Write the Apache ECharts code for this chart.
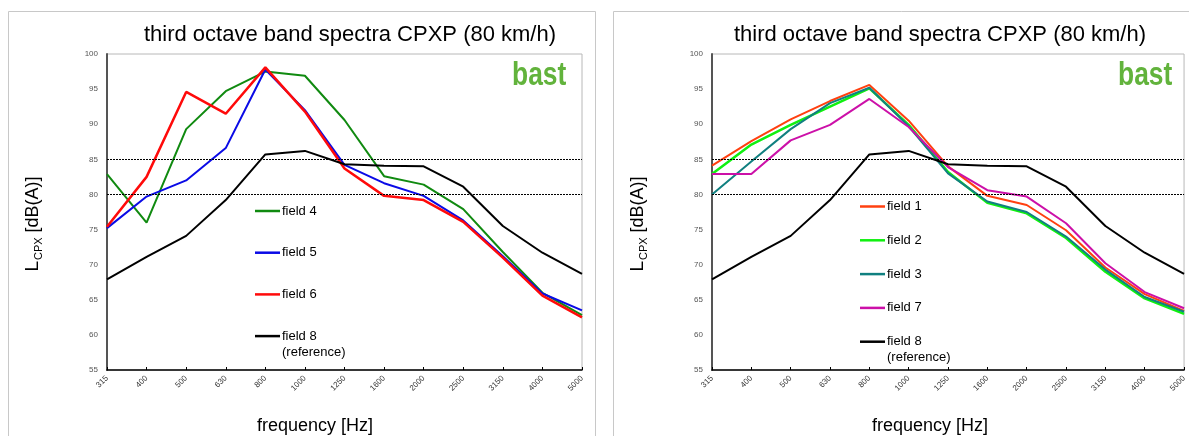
<!DOCTYPE html>
<html><head><meta charset="utf-8">
<script src="https://cdn.jsdelivr.net/npm/echarts@6/dist/echarts.min.js"></script>
<style>html,body{margin:0;padding:0;background:#fff}#c{width:1189px;height:436px}</style>
</head><body><div id="c"></div>
<script>
// ---- data ----
const categories = ['315','400','500','630','800','1000','1250','1600','2000','2500','3150','4000','5000'];
const field4 = [82.9, 76.0, 89.3, 94.7, 97.5, 96.9, 90.6, 82.6, 81.4, 77.9, 71.8, 66.0, 62.8];
const field5 = [75.2, 79.7, 82.0, 86.6, 97.8, 92.0, 84.2, 81.6, 79.8, 76.3, 71.2, 65.9, 63.5];
const field6 = [75.4, 82.5, 94.6, 91.5, 98.1, 91.8, 83.7, 79.8, 79.2, 76.1, 71.0, 65.6, 62.5];
const field8 = [67.9, 71.1, 74.1, 79.2, 85.7, 86.2, 84.3, 84.1, 84.0, 81.1, 75.5, 71.7, 68.7];
const field1 = [84.1, 87.6, 90.7, 93.3, 95.6, 90.5, 84.0, 79.8, 78.5, 74.9, 69.6, 65.8, 63.4];
const field2 = [82.9, 87.1, 89.9, 92.5, 95.1, 89.9, 83.2, 78.8, 77.3, 73.8, 69.0, 65.2, 63.0];
const field3 = [80.0, 84.7, 89.3, 93.0, 95.2, 89.7, 83.0, 79.0, 77.5, 74.0, 69.3, 65.4, 63.3];
const field7 = [82.9, 82.9, 87.7, 89.9, 93.6, 89.6, 83.9, 80.6, 79.7, 75.9, 70.2, 66.1, 63.8];
const refLevels = [80, 85];
const yMin = 55, yMax = 100, yStep = 5;
const titleText = 'third octave band spectra CPXP (80 km/h)';
const xTitle = 'frequency [Hz]';
const leftNames = ['field 4', 'field 5', 'field 6', 'field 8'];
const rightNames = ['field 1', 'field 2', 'field 3', 'field 7', 'field 8'];

const FONT = '"Liberation Sans", Arial, sans-serif';
const chart = echarts.init(document.getElementById('c'), null, {renderer: 'canvas'});

function xAxisFor(gi) {
  return {
    type: 'category', gridIndex: gi, data: categories, boundaryGap: false,
    axisLine: {lineStyle: {color: '#000', width: 1.5}},
    axisTick: {show: true, inside: true, length: 3, lineStyle: {color: '#000'}},
    axisLabel: {rotate: 45, fontSize: 8, color: '#333', margin: 7, interval: 0, fontFamily: FONT},
    splitLine: {show: false}
  };
}
function yAxisFor(gi) {
  return {
    type: 'value', gridIndex: gi, min: yMin, max: yMax, interval: yStep,
    axisLine: {show: true, lineStyle: {color: '#555', width: 2}},
    axisTick: {show: false},
    axisLabel: {fontSize: 8, color: '#555', margin: 9, fontFamily: FONT},
    splitLine: {show: false}
  };
}
function lineSeries(name, data, color, gi, width, extra) {
  return Object.assign({
    name, type: 'line', data, xAxisIndex: gi, yAxisIndex: gi,
    symbol: 'none', animation: false,
    lineStyle: {color, width: width || 2}, itemStyle: {color}
  }, extra || {});
}
function refMark() {
  return {markLine: {
    silent: true, symbol: ['none', 'none'], animation: false,
    label: {show: false},
    lineStyle: {type: [2, 1], color: '#000', width: 1},
    data: refLevels.map(v => ({yAxis: v}))
  }};
}
const bastFont = 'bold 33px "Liberation Sans", Arial, sans-serif';

const option = {
  backgroundColor: '#fff',
  animation: false,
  grid: [
    {left: 107, top: 54, width: 475, height: 316, show: true, borderColor: '#b8b8b8', borderWidth: 1},
    {left: 712, top: 54, width: 474, height: 316, show: true, borderColor: '#b8b8b8', borderWidth: 1}
  ],
  xAxis: [xAxisFor(0), xAxisFor(1)],
  yAxis: [yAxisFor(0), yAxisFor(1)],
  legend: [
    {orient: 'vertical', left: 255, top: 204.5, padding: 0, itemWidth: 25, itemHeight: 2.5, icon: 'rect',
     itemGap: 28.7, selectedMode: false, data: leftNames,
     textStyle: {fontSize: 13, color: '#000', fontFamily: FONT, padding: [0, 0, 0, -3]}},
    {orient: 'vertical', left: 860, top: 200, padding: 0, itemWidth: 25, itemHeight: 2.5, icon: 'rect',
     itemGap: 20.8, selectedMode: false, data: rightNames,
     textStyle: {fontSize: 13, color: '#000', fontFamily: FONT, padding: [0, 0, 0, -3]}}
  ],
  series: [
    lineSeries('field 4', field4, '#108a10', 0, 2),
    lineSeries('field 5', field5, '#0a0ae6', 0, 2),
    lineSeries('field 6', field6, '#ff0a0a', 0, 2.5),
    lineSeries('field 8', field8, '#000', 0, 2, refMark()),
    lineSeries('field 1', field1, '#ff4010', 1, 2),
    lineSeries('field 2', field2, '#10f010', 1, 2.5),
    lineSeries('field 3', field3, '#108080', 1, 2),
    lineSeries('field 7', field7, '#cc10a8', 1, 2),
    lineSeries('field 8', field8, '#000', 1, 2, refMark())
  ],
  graphic: [
    {type: 'rect', silent: true, z: -10, shape: {x: 8.5, y: 11.5, width: 587, height: 440},
     style: {fill: 'none', stroke: '#c8c8c8', lineWidth: 1}},
    {type: 'rect', silent: true, z: -10, shape: {x: 613.5, y: 11.5, width: 600, height: 440},
     style: {fill: 'none', stroke: '#c8c8c8', lineWidth: 1}},
    {type: 'text', x: 350, y: 35, style: {text: titleText, font: '22px ' + FONT, fill: '#000', align: 'center', verticalAlign: 'middle'}},
    {type: 'text', x: 940, y: 35, style: {text: titleText, font: '22px ' + FONT, fill: '#000', align: 'center', verticalAlign: 'middle'}},
    {type: 'text', x: 512, y: 76, scaleX: 0.8, style: {text: 'bast', font: bastFont, fill: '#62b33c', align: 'left', verticalAlign: 'middle'}},
    {type: 'text', x: 1118, y: 76, scaleX: 0.8, style: {text: 'bast', font: bastFont, fill: '#62b33c', align: 'left', verticalAlign: 'middle'}},
    {type: 'text', x: 315, y: 426, style: {text: xTitle, font: '18px ' + FONT, fill: '#000', align: 'center', verticalAlign: 'middle'}},
    {type: 'text', x: 930, y: 426, style: {text: xTitle, font: '18px ' + FONT, fill: '#000', align: 'center', verticalAlign: 'middle'}},
    {type: 'text', x: 33, y: 224, rotation: Math.PI / 2,
     style: {text: '{L|L}{s|CPX}{r| [dB(A)]}', align: 'center', verticalAlign: 'middle', fill: '#000',
       rich: {L: {fontSize: 19, fontFamily: FONT, verticalAlign: 'bottom'}, s: {fontSize: 11, fontFamily: FONT, verticalAlign: 'bottom', padding: [0, 0, -2, 1]}, r: {fontSize: 18, fontFamily: FONT, verticalAlign: 'bottom'}}}},
    {type: 'text', x: 638, y: 224, rotation: Math.PI / 2,
     style: {text: '{L|L}{s|CPX}{r| [dB(A)]}', align: 'center', verticalAlign: 'middle', fill: '#000',
       rich: {L: {fontSize: 19, fontFamily: FONT, verticalAlign: 'bottom'}, s: {fontSize: 11, fontFamily: FONT, verticalAlign: 'bottom', padding: [0, 0, -2, 1]}, r: {fontSize: 18, fontFamily: FONT, verticalAlign: 'bottom'}}}},
    {type: 'text', x: 282, y: 352, style: {text: '(reference)', font: '13px ' + FONT, fill: '#000', align: 'left', verticalAlign: 'middle'}},
    {type: 'text', x: 887, y: 357, style: {text: '(reference)', font: '13px ' + FONT, fill: '#000', align: 'left', verticalAlign: 'middle'}}
  ]
};
chart.setOption(option);
</script>
</body></html>
